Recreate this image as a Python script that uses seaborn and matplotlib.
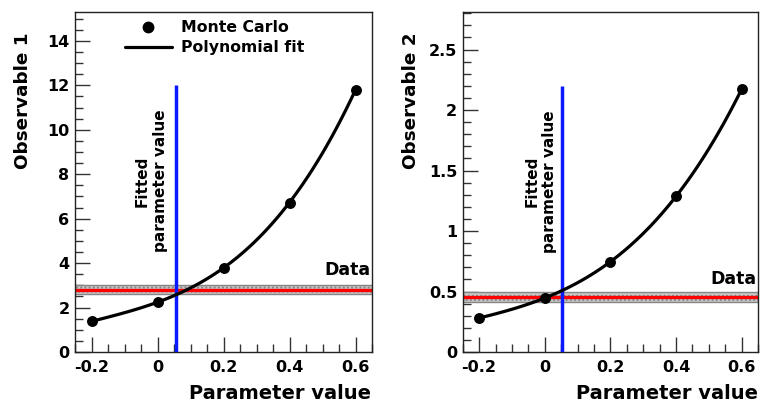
import numpy as np
import pandas as pd
import seaborn as sns
import matplotlib
matplotlib.use("Agg")
import matplotlib.pyplot as plt
from matplotlib.lines import Line2D
from matplotlib.ticker import MultipleLocator, FuncFormatter

# ---- data ----
param = [-0.2, 0.0, 0.2, 0.4, 0.6]
obs1 = [1.38, 2.23, 3.80, 6.72, 11.80]
obs2 = [0.28, 0.45, 0.74, 1.29, 2.17]
data1, err1 = 2.80, 0.20
data2, err2 = 0.455, 0.042
fitted1, fitted1_top = 0.055, 12.0
fitted2, fitted2_top = 0.053, 2.2
ylabels = ["Observable 1", "Observable 2"]
xlabel = "Parameter value"

sns.set_style("ticks")
plt.rcParams["font.family"] = ["DejaVu Sans"]
plt.rcParams["font.weight"] = "bold"
plt.rcParams["axes.labelweight"] = "bold"
plt.rcParams["hatch.linewidth"] = 0.9
for k in ["text.color", "axes.labelcolor", "xtick.color", "ytick.color",
          "xtick.labelcolor", "ytick.labelcolor"]:
    plt.rcParams[k] = "black"

fig = plt.figure(figsize=(7.62, 4.04), dpi=100)
ax1 = fig.add_axes([75/762, 1-352/404, 297/762, 340/404])
ax2 = fig.add_axes([462.7/762, 1-352/404, 295.3/762, 340/404])

configs = [
    (ax1, obs1, data1, err1, fitted1, fitted1_top, ylabels[0], 15.3, 2, 0.5,
     (-0.018, 7.7), 3.3),
    (ax2, obs2, data2, err2, fitted2, fitted2_top, ylabels[1], 2.81, 0.5, 0.1,
     (-0.012, 1.41), 0.53),
]

for (ax, obs, d, e, fit, fit_top, ylab, ymax, major, minor, txtpos, datay) in configs:
    df = pd.DataFrame({"param": param, "obs": obs})
    # data band
    ax.axhspan(d - e, d + e, facecolor="#c8c8c8", edgecolor="#858585",
               hatch="....", lw=1.0, zorder=1)
    ax.axhline(d, color="red", lw=2.4, zorder=2)
    # MC points + polynomial fit
    sns.regplot(data=df, x="param", y="obs", order=3, ci=None, ax=ax,
                color="black", truncate=True,
                scatter_kws=dict(s=62, zorder=5, linewidths=0, alpha=1),
                line_kws=dict(lw=2.3, zorder=4))
    # fitted parameter value
    ax.vlines(fit, 0, fit_top, color="#0a1aff", lw=2.5, zorder=3)
    ax.text(txtpos[0], txtpos[1], "Fitted\nparameter value", rotation=90,
            ha="center", va="center", multialignment="center",
            fontsize=11, fontweight="bold", linespacing=1.25)
    ax.text(0.645, datay, "Data", ha="right", va="bottom",
            fontsize=12.5, fontweight="bold")

    ax.set_xlim(-0.25, 0.65)
    ax.set_ylim(0, ymax)
    ax.xaxis.set_major_locator(MultipleLocator(0.2))
    ax.xaxis.set_minor_locator(MultipleLocator(0.05))
    ax.yaxis.set_major_locator(MultipleLocator(major))
    ax.yaxis.set_minor_locator(MultipleLocator(minor))
    ax.xaxis.set_major_formatter(FuncFormatter(lambda v, p: "%g" % round(v, 3)))
    ax.yaxis.set_major_formatter(FuncFormatter(lambda v, p: "%g" % round(v, 3)))
    ax.tick_params(which="both", direction="in", top=False, right=False,
                   labelsize=11.5, color="#333333", width=1)
    ax.tick_params(which="major", length=11)
    ax.tick_params(which="minor", length=5.5)
    ax.tick_params(axis="x", which="major", pad=6)
    ax.tick_params(axis="y", which="major", pad=4)
    for lab in ax.get_xticklabels() + ax.get_yticklabels():
        lab.set_fontweight("bold")
    for s in ax.spines.values():
        s.set_visible(True)
        s.set_color("#222222")
        s.set_linewidth(1.0)

    ax.set_xlabel(xlabel, fontsize=14, fontweight="bold", loc="right")
    ax.set_ylabel(ylab, fontsize=13.2, fontweight="bold", loc="top")
    ax.xaxis.set_label_coords(1.0, -0.095)
    ax.yaxis.set_label_coords(-0.145, 0.94)

ax1.xaxis.set_label_coords(0.995, -0.095)

handles = [Line2D([], [], marker="o", color="black", ls="none", markersize=7.5),
           Line2D([], [], color="black", lw=2.3)]
ax1.legend(handles, ["Monte Carlo", "Polynomial fit"], frameon=False,
           loc="upper left", bbox_to_anchor=(0.168, 0.975), borderpad=0,
           borderaxespad=0, handlelength=3.0, handletextpad=0.55,
           labelspacing=0.3, prop=dict(size=11.3, weight="bold"))

fig.savefig("out.png", dpi=100)
